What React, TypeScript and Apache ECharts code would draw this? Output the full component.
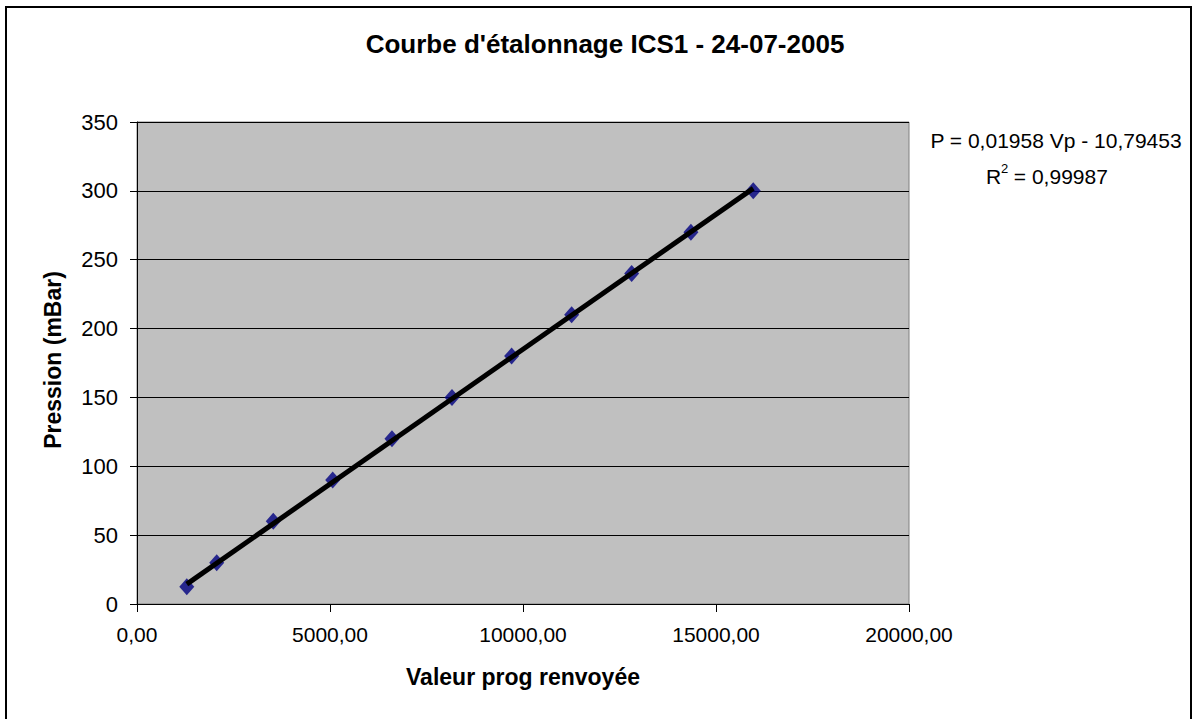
import React, { useEffect, useRef } from "react";
import * as echarts from "echarts";

const valeurProg = [1290, 2065, 3530, 5070, 6605, 8160, 9705, 11260, 12815, 14350, 15965];
const pression = [12.5, 30, 60, 90, 120, 150, 180, 210, 240, 270, 300];
const trendSlope = 0.01958;
const trendIntercept = -10.79453;
const titleText = "Courbe d'étalonnage ICS1 - 24-07-2005";
const xName = "Valeur prog renvoyée";
const yName = "Pression (mBar)";
const eqLine1 = "P = 0,01958 Vp - 10,79453";
const eqLine2 = " = 0,99987";

const FONT = "'Liberation Sans', Arial, sans-serif";

export default function App() {
  const ref = useRef<HTMLDivElement>(null);
  useEffect(() => {
    document.body.style.margin = "0";
    const chart = echarts.init(ref.current!, null, { renderer: "svg" });
    const pts = valeurProg.map((x, i) => [x, pression[i]]);
    const x0 = valeurProg[0];
    const x1 = valeurProg[valeurProg.length - 1];
    const trend = [
      [x0, trendSlope * x0 + trendIntercept],
      [x1, trendSlope * x1 + trendIntercept],
    ];
    chart.setOption({
      animation: false,
      backgroundColor: "#ffffff",
      grid: {
        left: 137,
        top: 122,
        right: 1192 - 909,
        bottom: 719 - 604,
        show: true,
        backgroundColor: "#C0C0C0",
        borderColor: "#808080",
        borderWidth: 1,
      },
      xAxis: {
        type: "value",
        min: 0,
        max: 20000,
        interval: 5000,
        axisLine: { show: true, onZero: false, lineStyle: { color: "#000", width: 1 } },
        axisTick: { show: true, inside: false, length: 8, lineStyle: { color: "#000" } },
        splitLine: { show: false },
        axisLabel: {
          color: "#000",
          fontSize: 21,
          fontFamily: FONT,
          margin: 20,
          formatter: (v: number) => v.toFixed(2).replace(".", ","),
        },
      },
      yAxis: {
        type: "value",
        min: 0,
        max: 350,
        interval: 50,
        axisLine: { show: true, lineStyle: { color: "#000", width: 1 } },
        axisTick: { show: true, inside: false, length: 7, lineStyle: { color: "#000" } },
        splitLine: { show: true, lineStyle: { color: "#000", width: 1 } },
        axisLabel: { color: "#000", fontSize: 22, fontFamily: FONT, margin: 19 },
      },
      series: [
        {
          type: "scatter",
          data: pts,
          symbol: "diamond",
          symbolSize: [15, 17],
          itemStyle: { color: "#000080" },
          z: 2,
        },
        {
          type: "line",
          data: trend,
          showSymbol: false,
          symbol: "none",
          lineStyle: { color: "#000", width: 5 },
          z: 3,
        },
      ],
      graphic: [
        {
          type: "rect",
          shape: { x: 6, y: 7, width: 1185, height: 730 },
          style: { fill: "none", stroke: "#000", lineWidth: 2 },
        },
        {
          type: "text",
          x: 605,
          y: 44,
          style: {
            text: titleText,
            textAlign: "center",
            textVerticalAlign: "middle",
            fontSize: 26,
            fontWeight: "bold",
            fontFamily: FONT,
            fill: "#000",
          },
        },
        {
          type: "text",
          x: 523,
          y: 677,
          style: {
            text: xName,
            textAlign: "center",
            textVerticalAlign: "middle",
            fontSize: 23,
            fontWeight: "bold",
            fontFamily: FONT,
            fill: "#000",
          },
        },
        {
          type: "text",
          x: 53,
          y: 360,
          rotation: Math.PI / 2,
          style: {
            text: yName,
            textAlign: "center",
            textVerticalAlign: "middle",
            fontSize: 23,
            fontWeight: "bold",
            fontFamily: FONT,
            fill: "#000",
          },
        },
        {
          type: "text",
          x: 1056,
          y: 140,
          style: {
            text: eqLine1,
            textAlign: "center",
            textVerticalAlign: "middle",
            fontSize: 21,
            fontFamily: FONT,
            fill: "#000",
          },
        },
        {
          type: "text",
          x: 986,
          y: 176,
          style: {
            text: "R",
            textAlign: "left",
            textVerticalAlign: "middle",
            fontSize: 21,
            fontFamily: FONT,
            fill: "#000",
          },
        },
        {
          type: "text",
          x: 1001,
          y: 168,
          style: {
            text: "2",
            textAlign: "left",
            textVerticalAlign: "middle",
            fontSize: 13,
            fontFamily: FONT,
            fill: "#000",
          },
        },
        {
          type: "text",
          x: 1008,
          y: 176,
          style: {
            text: eqLine2,
            textAlign: "left",
            textVerticalAlign: "middle",
            fontSize: 21,
            fontFamily: FONT,
            fill: "#000",
          },
        },
      ],
    });
    return () => chart.dispose();
  }, []);
  return <div ref={ref} style={{ width: 1192, height: 719 }} />;
}
